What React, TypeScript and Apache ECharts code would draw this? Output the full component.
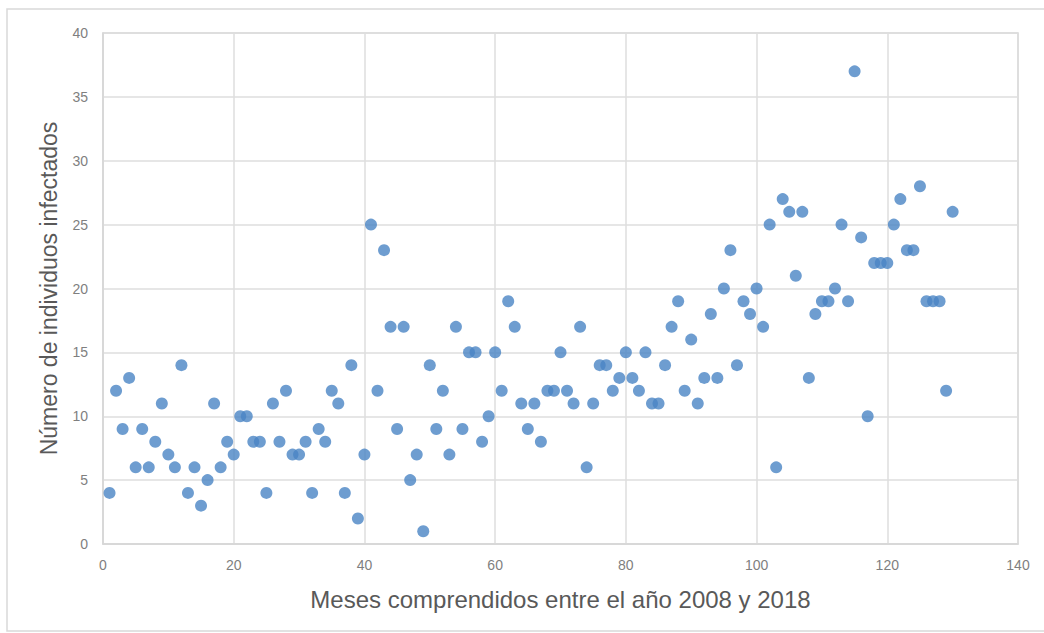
import React, { useEffect, useRef } from "react";
import * as echarts from "echarts";

const months: number[] = [
  1, 2, 3, 4, 5, 6, 7, 8, 9, 10, 11, 12, 13, 14, 15, 16, 17, 18, 19, 20,
  21, 22, 23, 24, 25, 26, 27, 28, 29, 30, 31, 32, 33, 34, 35, 36, 37, 38, 39, 40,
  41, 42, 43, 44, 45, 46, 47, 48, 49, 50, 51, 52, 53, 54, 55, 56, 57, 58, 59, 60,
  61, 62, 63, 64, 65, 66, 67, 68, 69, 70, 71, 72, 73, 74, 75, 76, 77, 78, 79, 80,
  81, 82, 83, 84, 85, 86, 87, 88, 89, 90, 91, 92, 93, 94, 95, 96, 97, 98, 99, 100,
  101, 102, 103, 104, 105, 106, 107, 108, 109, 110, 111, 112, 113, 114, 115, 116, 117, 118, 119, 120,
  121, 122, 123, 124, 125, 126, 127, 128, 129, 130,
];

const infected: number[] = [
  4, 12, 9, 13, 6, 9, 6, 8, 11, 7, 6, 14, 4, 6, 3, 5, 11, 6, 8, 7,
  10, 10, 8, 8, 4, 11, 8, 12, 7, 7, 8, 4, 9, 8, 12, 11, 4, 14, 2, 7,
  25, 12, 23, 17, 9, 17, 5, 7, 1, 14, 9, 12, 7, 17, 9, 15, 15, 8, 10, 15,
  12, 19, 17, 11, 9, 11, 8, 12, 12, 15, 12, 11, 17, 6, 11, 14, 14, 12, 13, 15,
  13, 12, 15, 11, 11, 14, 17, 19, 12, 16, 11, 13, 18, 13, 20, 23, 14, 19, 18, 20,
  17, 25, 6, 27, 26, 21, 26, 13, 18, 19, 19, 20, 25, 19, 37, 24, 10, 22, 22, 22,
  25, 27, 23, 23, 28, 19, 19, 19, 12, 26,
];

const xTitle = "Meses comprendidos entre el año 2008 y 2018";
const yTitle = "Número de individuos infectados";

export default function App() {
  const ref = useRef<HTMLDivElement>(null);
  useEffect(() => {
    if (!ref.current) return;
    const chart = echarts.init(ref.current, undefined, { renderer: "svg" });
    const font = "Liberation Sans, Arial, sans-serif";
    chart.setOption({
      animation: false,
      backgroundColor: "#ffffff",
      graphic: [
        {
          type: "rect",
          shape: { x: 7, y: 9, width: 1045, height: 622 },
          style: { fill: "none", stroke: "#d9d9d9", lineWidth: 1.5 },
          silent: true,
        },
      ],
      grid: {
        left: 103,
        top: 33,
        right: 26,
        bottom: 89,
        show: true,
        borderColor: "#d6d6d6",
        borderWidth: 1.5,
      },
      xAxis: {
        type: "value",
        min: 0,
        max: 140,
        interval: 20,
        name: xTitle,
        nameLocation: "middle",
        nameGap: 43,
        nameTextStyle: { color: "#595959", fontSize: 24, fontFamily: font },
        axisLine: { show: true, lineStyle: { color: "#d6d6d6", width: 1.5 } },
        axisTick: { show: false },
        axisLabel: { color: "#7f7f7f", fontSize: 14, margin: 14, fontFamily: font },
        splitLine: { show: true, lineStyle: { color: "#dedede", width: 1.5 } },
      },
      yAxis: {
        type: "value",
        min: 0,
        max: 40,
        interval: 5,
        name: yTitle,
        nameLocation: "middle",
        nameGap: 43,
        nameTextStyle: { color: "#595959", fontSize: 23, fontFamily: font },
        axisLine: { show: true, lineStyle: { color: "#d6d6d6", width: 1.5 } },
        axisTick: { show: false },
        axisLabel: { color: "#7f7f7f", fontSize: 14, margin: 15, fontFamily: font },
        splitLine: { show: true, lineStyle: { color: "#dedede", width: 1.5 } },
      },
      series: [
        {
          type: "scatter",
          symbol: "circle",
          symbolSize: 12,
          itemStyle: { color: "#4a84c4" },
          data: months.map((m, i) => [m, infected[i]]),
        },
      ],
    });
    return () => chart.dispose();
  }, []);
  return (
    <div
      ref={ref}
      style={{ position: "fixed", left: 0, top: 0, width: 1044, height: 633 }}
    />
  );
}
